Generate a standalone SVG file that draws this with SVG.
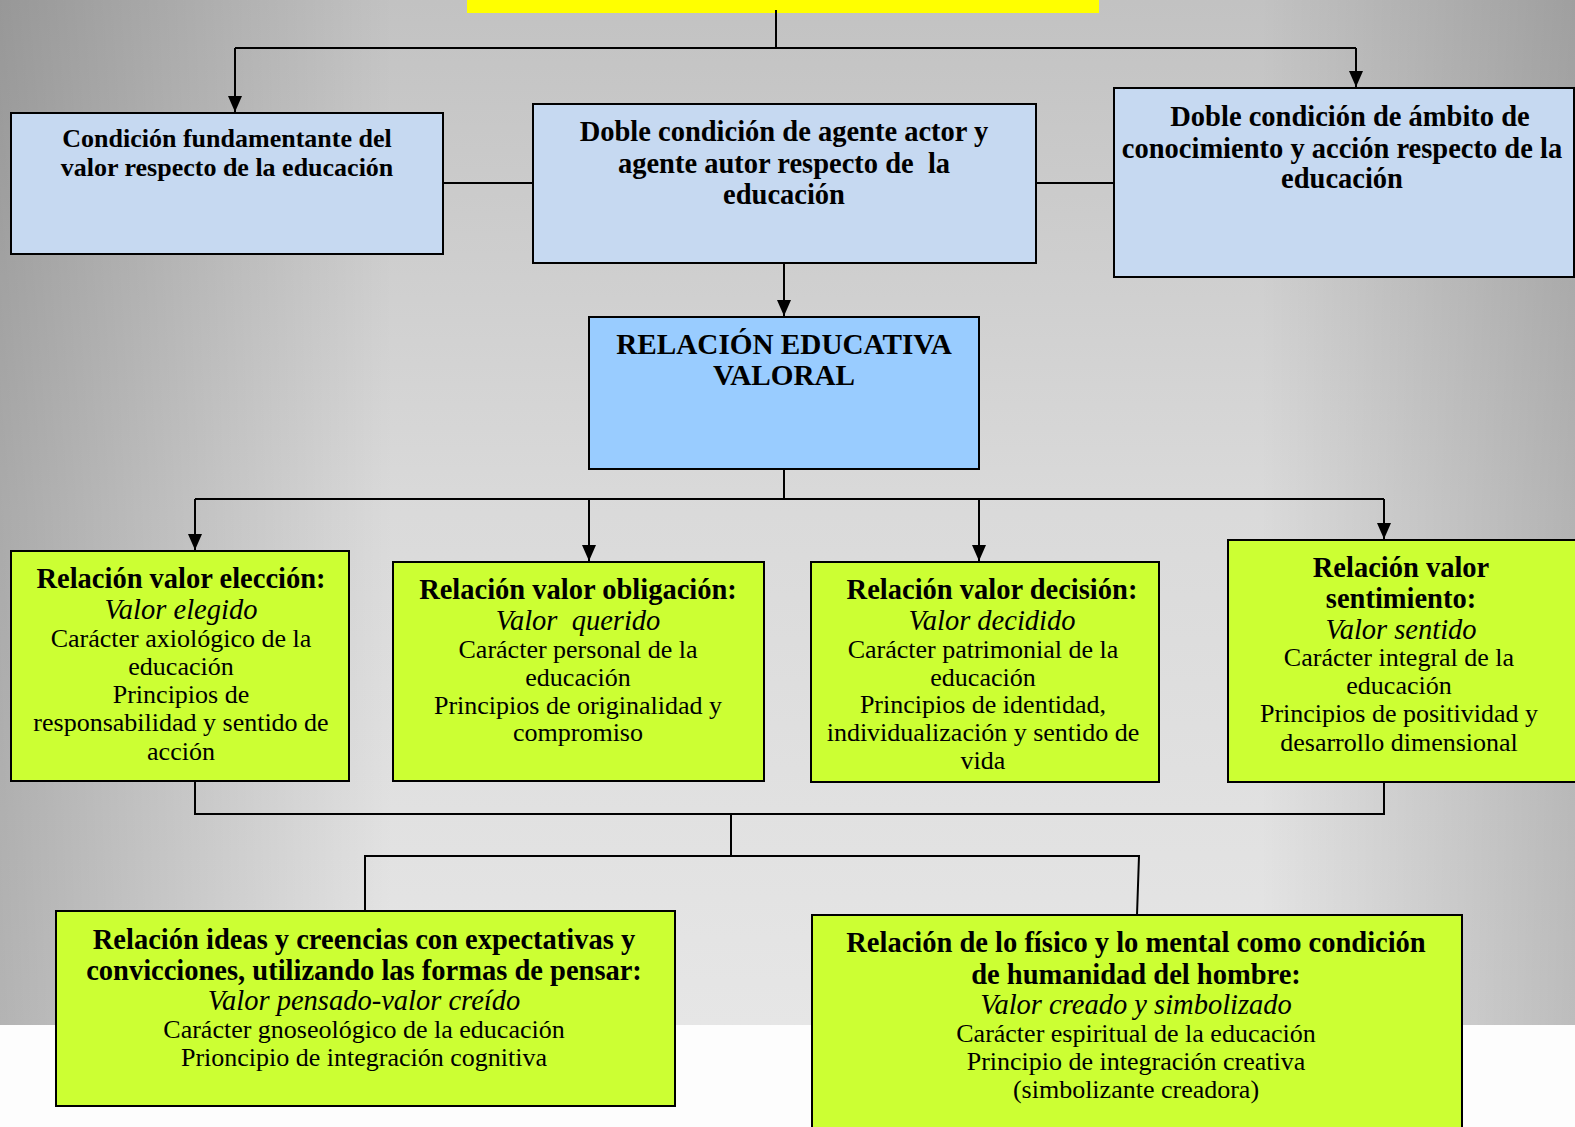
<svg xmlns="http://www.w3.org/2000/svg" width="1575" height="1127" viewBox="0 0 1575 1127">
<defs>
<linearGradient id="bgv" x1="0" y1="0" x2="0" y2="1">
<stop offset="0" stop-color="#c2c2c2"/>
<stop offset="0.5" stop-color="#dadada"/>
<stop offset="1" stop-color="#e6e6e6"/>
</linearGradient>
<linearGradient id="bgh" x1="0" y1="0" x2="1" y2="0">
<stop offset="0" stop-color="#000" stop-opacity="0.22"/>
<stop offset="0.25" stop-color="#000" stop-opacity="0"/>
<stop offset="0.8" stop-color="#000" stop-opacity="0"/>
<stop offset="1" stop-color="#000" stop-opacity="0.18"/>
</linearGradient>
<marker id="arr" viewBox="0 0 16 14" markerWidth="16" markerHeight="14" refX="16" refY="7" orient="auto" markerUnits="userSpaceOnUse">
<path d="M0,0 L16,7 L0,14 z" fill="#000"/>
</marker>
<style>
.box{stroke:#000;stroke-width:2}
.blue{fill:#c6d9f1}
.mid{fill:#99ccff}
.green{fill:#ccff33}
.ln{fill:none;stroke:#000;stroke-width:2}
.t{font-family:"Liberation Serif","Times New Roman",serif;text-anchor:middle;fill:#000}
.b{font-weight:bold;font-size:28.5px}
.b26{font-weight:bold;font-size:26px}
.bl{font-weight:bold;font-size:29.2px}
.i{font-style:italic;font-size:28.5px}
.n{font-size:26px}
</style>
</defs>
<rect x="0" y="0" width="1575" height="1127" fill="#fdfdfd"/>
<rect x="0" y="0" width="1575" height="1025" fill="url(#bgv)"/>
<rect x="0" y="0" width="1575" height="1025" fill="url(#bgh)"/>
<rect id="top" x="467" y="0" width="632" height="13" fill="#ffff00"/>

<g id="connectors">
<path class="ln" d="M776,10 V48"/>
<path class="ln" d="M235,48 H1356"/>
<path class="ln" d="M235,48 V112" marker-end="url(#arr)"/>
<path class="ln" d="M1356,48 V87" marker-end="url(#arr)"/>
<path class="ln" d="M443,183 H533"/>
<path class="ln" d="M1036,183 H1114"/>
<path class="ln" d="M784,263 V316" marker-end="url(#arr)"/>
<path class="ln" d="M784,469 V499"/>
<path class="ln" d="M195,499 H1384"/>
<path class="ln" d="M195,499 V550" marker-end="url(#arr)"/>
<path class="ln" d="M589,499 V561" marker-end="url(#arr)"/>
<path class="ln" d="M979,499 V561" marker-end="url(#arr)"/>
<path class="ln" d="M1384,499 V539" marker-end="url(#arr)"/>
<path class="ln" d="M195,781 V814 H1384 V782"/>
<path class="ln" d="M731,814 V856"/>
<path class="ln" d="M365,911 V856 H1139 L1137,915"/>
</g>

<g id="n1">
<rect class="box blue" x="11" y="113" width="432" height="141"/>
<text class="t b26" x="227" y="147">Condición fundamentante del</text>
<text class="t b26" x="227" y="176">valor respecto de la educación</text>
</g>
<g id="n2">
<rect class="box blue" x="533" y="104" width="503" height="159"/>
<text class="t b" x="784" y="141">Doble condición de agente actor y</text>
<text class="t b" x="784" y="173" xml:space="preserve">agente autor respecto de  la</text>
<text class="t b" x="784" y="204">educación</text>
</g>
<g id="n3">
<rect class="box blue" x="1114" y="88" width="460" height="189"/>
<text class="t b" x="1350" y="126">Doble condición de ámbito de</text>
<text class="t b" x="1342" y="158">conocimiento y acción respecto de la</text>
<text class="t b" x="1342" y="188">educación</text>
</g>
<g id="n4">
<rect class="box mid" x="589" y="317" width="390" height="152"/>
<text class="t bl" x="784" y="354">RELACIÓN EDUCATIVA</text>
<text class="t bl" x="784" y="385">VALORAL</text>
</g>
<g id="g1">
<rect class="box green" x="11" y="551" width="338" height="230"/>
<text class="t b" x="181" y="588">Relación valor elección:</text>
<text class="t i" x="181" y="619">Valor elegido</text>
<text class="t n" x="181" y="647">Carácter axiológico de la</text>
<text class="t n" x="181" y="675">educación</text>
<text class="t n" x="181" y="703">Principios de</text>
<text class="t n" x="181" y="731">responsabilidad y sentido de</text>
<text class="t n" x="181" y="760">acción</text>
</g>
<g id="g2">
<rect class="box green" x="393" y="562" width="371" height="219"/>
<text class="t b" x="578" y="599">Relación valor obligación:</text>
<text class="t i" x="578" y="630" xml:space="preserve">Valor  querido</text>
<text class="t n" x="578" y="658">Carácter personal de la</text>
<text class="t n" x="578" y="686">educación</text>
<text class="t n" x="578" y="714">Principios de originalidad y</text>
<text class="t n" x="578" y="741">compromiso</text>
</g>
<g id="g3">
<rect class="box green" x="811" y="562" width="348" height="220"/>
<text class="t b" x="992" y="599">Relación valor decisión:</text>
<text class="t i" x="992" y="630">Valor decidido</text>
<text class="t n" x="983" y="658">Carácter patrimonial de la</text>
<text class="t n" x="983" y="686">educación</text>
<text class="t n" x="983" y="713">Principios de identidad,</text>
<text class="t n" x="983" y="741">individualización y sentido de</text>
<text class="t n" x="983" y="769">vida</text>
</g>
<g id="g4">
<rect class="box green" x="1228" y="540" width="352" height="242"/>
<text class="t b" x="1401" y="577">Relación valor</text>
<text class="t b" x="1401" y="608">sentimiento:</text>
<text class="t i" x="1401" y="639">Valor sentido</text>
<text class="t n" x="1399" y="666">Carácter integral de la</text>
<text class="t n" x="1399" y="694">educación</text>
<text class="t n" x="1399" y="722">Principios de positividad y</text>
<text class="t n" x="1399" y="751">desarrollo dimensional</text>
</g>
<g id="b1">
<rect class="box green" x="56" y="911" width="619" height="195"/>
<text class="t b" x="364" y="949">Relación ideas y creencias con expectativas y</text>
<text class="t b" x="364" y="980">convicciones, utilizando las formas de pensar:</text>
<text class="t i" x="364" y="1010">Valor pensado-valor creído</text>
<text class="t n" x="364" y="1038">Carácter gnoseológico de la educación</text>
<text class="t n" x="364" y="1066">Prioncipio de integración cognitiva</text>
</g>
<g id="b2">
<rect class="box green" x="812" y="915" width="650" height="220"/>
<text class="t b" x="1136" y="952">Relación de lo físico y lo mental como condición</text>
<text class="t b" x="1136" y="984">de humanidad del hombre:</text>
<text class="t i" x="1136" y="1014">Valor creado y simbolizado</text>
<text class="t n" x="1136" y="1042">Carácter espiritual de la educación</text>
<text class="t n" x="1136" y="1070">Principio de integración creativa</text>
<text class="t n" x="1136" y="1098">(simbolizante creadora)</text>
</g>
</svg>
